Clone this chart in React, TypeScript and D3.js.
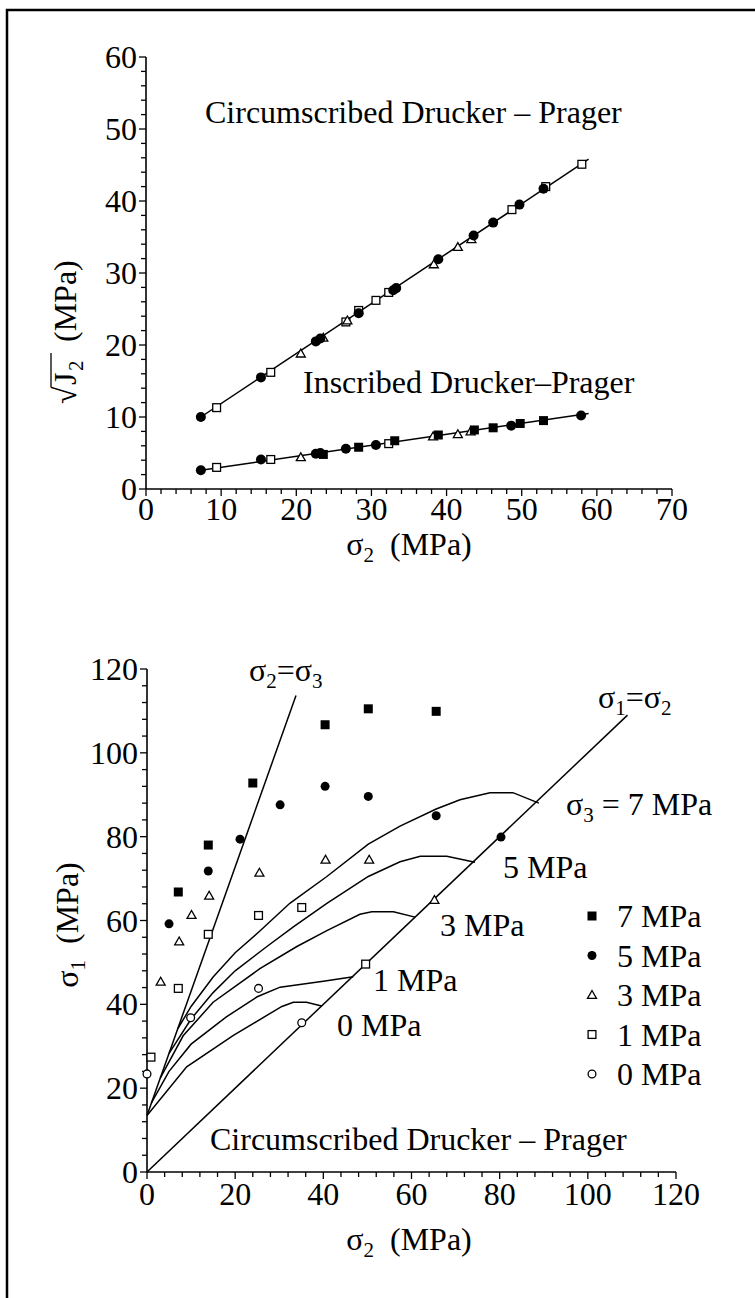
import React from 'react';
import * as d3 from 'd3';

const FONT = '"Liberation Serif", "Times New Roman", Times, serif';
const FS = 32;

// ---------- upper panel: sqrt(J2) vs sigma2 ----------
const topXTicks = [0, 10, 20, 30, 40, 50, 60, 70];
const topYTicks = [0, 10, 20, 30, 40, 50, 60];

const circLine: [number, number][] = [[7.3, 10.0], [58.9, 45.8]];
const inscLine: [number, number][] = [[7.3, 2.6], [58.9, 10.5]];

const circFilledCircle: [number, number][] = [
  [7.3, 10.0], [15.3, 15.5], [22.6, 20.5], [23.2, 20.9], [28.3, 24.4], [32.9, 27.6],
  [33.3, 27.9], [38.9, 31.9], [43.6, 35.2], [46.2, 37.0], [49.7, 39.5], [52.9, 41.7],
];
const circOpenSquare: [number, number][] = [
  [9.4, 11.3], [16.6, 16.2], [26.6, 23.2], [28.3, 24.8], [30.6, 26.2], [32.3, 27.3],
  [48.7, 38.8], [53.2, 42.0], [58.0, 45.1],
];
const circTriangle: [number, number][] = [
  [20.6, 18.8], [23.6, 21.0], [26.8, 23.4], [38.3, 31.2], [41.5, 33.6], [43.3, 34.7],
];

const inscFilledCircle: [number, number][] = [
  [7.3, 2.6], [15.3, 4.1], [22.6, 4.9], [23.2, 5.0], [26.6, 5.6], [30.6, 6.1],
  [48.6, 8.8], [57.9, 10.2],
];
const inscOpenSquare: [number, number][] = [[9.4, 3.0], [16.6, 4.1], [32.3, 6.3]];
const inscFilledSquare: [number, number][] = [
  [23.6, 4.8], [28.3, 5.8], [33.1, 6.7], [38.9, 7.5], [43.7, 8.2], [46.2, 8.5],
  [49.8, 9.1], [52.9, 9.5],
];
const inscTriangle: [number, number][] = [[20.6, 4.4], [38.2, 7.3], [41.5, 7.6], [43.2, 8.0]];

// ---------- lower panel: sigma1 vs sigma2 ----------
const botXTicks = [0, 20, 40, 60, 80, 100, 120];
const botYTicks = [0, 20, 40, 60, 80, 100, 120];

const lineS1eqS2: [number, number][] = [[0, 0], [109, 109]];
const lineS2eqS3: [number, number][] = [[0, 13.5], [33.8, 113.7]];

const curve7: [number, number][] = [
  [7, 34.2], [10, 39.5], [15, 46.5], [20, 52.3], [25.6, 57.5], [32.4, 64.1], [40.8, 70.5],
  [50.2, 78.2], [57.4, 82.5], [65.6, 86.6], [71, 88.8], [77.8, 90.5], [83, 90.5], [88.9, 88.0],
];
const curve5: [number, number][] = [
  [5, 28.3], [10, 36.5], [15, 42.8], [20, 48.0], [27.2, 53.8], [33.2, 58.5], [40.8, 64.1],
  [50.2, 70.5], [57.4, 74.0], [62, 75.3], [68, 75.3], [74.4, 73.9],
];
const curve3: [number, number][] = [
  [3, 22.4], [8.2, 32.5], [15, 40.5], [25.6, 48.5], [34.0, 53.8], [40.8, 57.6],
  [48.3, 61.5], [51, 62.1], [55.9, 62.1], [60.8, 60.8],
];
const curve1: [number, number][] = [
  [1, 16.5], [5, 24.0], [10, 30.5], [18, 37.0], [25, 41.8], [30.2, 44.1], [40, 45.5], [46.8, 46.6],
];
const curve0: [number, number][] = [
  [0, 13.5], [9, 25.1], [19.6, 32.6], [30.6, 39.5], [33.2, 40.5], [36.2, 40.5], [39.6, 39.6],
];

const test7: [number, number][] = [[7.1, 66.8], [13.9, 78.0], [24.0, 92.8], [40.4, 106.7], [50.2, 110.5], [65.6, 109.9]];
const test5: [number, number][] = [[5.0, 59.2], [13.9, 71.8], [21.1, 79.4], [30.2, 87.6], [40.4, 92.0], [50.2, 89.6], [65.6, 85.0], [80.3, 79.9]];
const test3: [number, number][] = [[3.1, 45.4], [7.3, 55.0], [10.1, 61.3], [14.1, 65.9], [25.5, 71.4], [40.5, 74.5], [50.4, 74.5], [65.2, 64.9]];
const test1: [number, number][] = [[0.9, 27.4], [7.1, 43.8], [13.9, 56.7], [25.3, 61.2], [35.1, 63.1], [49.6, 49.6]];
const test0: [number, number][] = [[0, 23.4], [9.9, 36.8], [25.3, 43.8], [35.1, 35.6]];

const legendLabels = ['7 MPa', '5 MPa', '3 MPa', '1 MPa', '0 MPa'];
const legendShapes = ['fsq', 'fci', 'tri', 'osq', 'oci'];

type Shape = 'fsq' | 'fci' | 'tri' | 'osq' | 'oci';

function Marker({ shape, x, y, s = 9 }: { shape: string; x: number; y: number; s?: number }) {
  const h = s / 2;
  switch (shape as Shape) {
    case 'fsq':
      return <rect x={x - h} y={y - h} width={s} height={s} fill="#000" />;
    case 'osq':
      return <rect x={x - h + 0.6} y={y - h + 0.6} width={s - 1.2} height={s - 1.2} fill="#fff" stroke="#000" strokeWidth={1.3} />;
    case 'fci':
      return <circle cx={x} cy={y} r={h} fill="#000" />;
    case 'oci':
      return <circle cx={x} cy={y} r={h - 0.6} fill="#fff" stroke="#000" strokeWidth={1.3} />;
    case 'tri':
    default: {
      const p = `M${x},${y - h} L${x + h},${y + h * 0.75} L${x - h},${y + h * 0.75} Z`;
      return <path d={p} fill="#fff" stroke="#000" strokeWidth={1.3} />;
    }
  }
}

export default function App() {
  // scales, upper panel
  const tx = d3.scaleLinear().domain([0, 70]).range([146, 672]);
  const ty = d3.scaleLinear().domain([0, 60]).range([489, 57]);
  // scales, lower panel
  const bx = d3.scaleLinear().domain([0, 120]).range([147, 676]);
  const by = d3.scaleLinear().domain([0, 120]).range([1172, 669]);

  const tLine = d3.line<[number, number]>().x((d) => tx(d[0])).y((d) => ty(d[1]));
  const bLine = d3.line<[number, number]>().x((d) => bx(d[0])).y((d) => by(d[1]));

  const txMinor = d3.range(0, 70.001, 2);
  const tyMinor = d3.range(0, 60.001, 2);
  const bxMinor = d3.range(0, 120.001, 4);
  const byMinor = d3.range(0, 120.001, 4);

  const axisW = 1.6;
  const lineW = 1.5;

  const textStyle = { fontFamily: FONT, fontSize: FS, fill: '#000' } as const;
  const SUB = 21;

  const pts = (arr: [number, number][], shape: string, sx: any, sy: any, s = 9) =>
    arr.map((d, i) => <Marker key={shape + i} shape={shape} x={sx(d[0])} y={sy(d[1])} s={s} />);

  return (
    <svg
      width={755}
      height={1298}
      style={{ position: 'absolute', left: 0, top: 0, display: 'block', background: '#fff' }}
    >
      <rect x={0} y={0} width={755} height={1298} fill="#fff" />
      {/* outer frame */}
      <path d="M7,1298 V10 H755" fill="none" stroke="#000" strokeWidth={2.5} />

      {/* ===== upper panel ===== */}
      <g>
        {/* axes */}
        <line x1={tx(0)} x2={tx(70)} y1={ty(0)} y2={ty(0)} stroke="#000" strokeWidth={axisW} />
        <line x1={tx(0)} x2={tx(0)} y1={ty(0)} y2={ty(60)} stroke="#000" strokeWidth={axisW} />
        {txMinor.map((v) => (
          <line key={'tx' + v} x1={tx(v)} x2={tx(v)} y1={ty(0)} y2={ty(0) + (v % 10 === 0 ? 7 : 5)} stroke="#000" strokeWidth={1.3} />
        ))}
        {tyMinor.map((v) => (
          <line key={'ty' + v} x1={tx(0)} x2={tx(0) - (v % 10 === 0 ? 7 : 5)} y1={ty(v)} y2={ty(v)} stroke="#000" strokeWidth={1.3} />
        ))}
        {topXTicks.map((v) => (
          <text key={'txl' + v} x={tx(v)} y={ty(0) + 31} textAnchor="middle" style={textStyle}>{v}</text>
        ))}
        {topYTicks.map((v) => (
          <text key={'tyl' + v} x={tx(0) - 9} y={ty(v) + 11} textAnchor="end" style={textStyle}>{v}</text>
        ))}

        {/* fitted lines */}
        <path d={tLine(circLine) || ''} fill="none" stroke="#000" strokeWidth={lineW} />
        <path d={tLine(inscLine) || ''} fill="none" stroke="#000" strokeWidth={lineW} />

        {pts(circOpenSquare, 'osq', tx, ty, 9)}
        {pts(circTriangle, 'tri', tx, ty, 9)}
        {pts(circFilledCircle, 'fci', tx, ty, 10)}
        {pts(inscOpenSquare, 'osq', tx, ty, 9)}
        {pts(inscTriangle, 'tri', tx, ty, 9)}
        {pts(inscFilledSquare, 'fsq', tx, ty, 9)}
        {pts(inscFilledCircle, 'fci', tx, ty, 10)}

        <text x={205} y={123} style={textStyle}>Circumscribed Drucker – Prager</text>
        <text x={303} y={393} style={textStyle}>Inscribed Drucker–Prager</text>

        {/* axis titles */}
        <text x={409} y={555} textAnchor="middle" style={textStyle}>
          σ<tspan fontSize={SUB} dy={7}>2</tspan>
          <tspan dy={-7}>{'\u00a0\u00a0(MPa)'}</tspan>
        </text>
        <g transform="translate(76,404) rotate(-90)">
          <text x={0} y={0} style={textStyle}>√</text>
          <line x1={17} x2={51} y1={-25} y2={-25} stroke="#000" strokeWidth={1.3} />
          <text x={19} y={0} style={textStyle}>J</text>
          <text x={33} y={7} style={{ ...textStyle, fontSize: SUB }}>2</text>
          <text x={62} y={0} style={textStyle}>(MPa)</text>
        </g>
      </g>

      {/* ===== lower panel ===== */}
      <g>
        <line x1={bx(0)} x2={bx(120)} y1={by(0)} y2={by(0)} stroke="#000" strokeWidth={axisW} />
        <line x1={bx(0)} x2={bx(0)} y1={by(0)} y2={by(120)} stroke="#000" strokeWidth={axisW} />
        {bxMinor.map((v) => (
          <line key={'bx' + v} x1={bx(v)} x2={bx(v)} y1={by(0)} y2={by(0) + (v % 20 === 0 ? 7 : 5)} stroke="#000" strokeWidth={1.3} />
        ))}
        {byMinor.map((v) => (
          <line key={'by' + v} x1={bx(0)} x2={bx(0) - (v % 20 === 0 ? 7 : 5)} y1={by(v)} y2={by(v)} stroke="#000" strokeWidth={1.3} />
        ))}
        {botXTicks.map((v) => (
          <text key={'bxl' + v} x={bx(v)} y={by(0) + 33} textAnchor="middle" style={textStyle}>{v}</text>
        ))}
        {botYTicks.map((v) => (
          <text key={'byl' + v} x={bx(0) - 9} y={by(v) + 11} textAnchor="end" style={textStyle}>{v}</text>
        ))}

        <path d={bLine(lineS1eqS2) || ''} fill="none" stroke="#000" strokeWidth={lineW} />
        <path d={bLine(lineS2eqS3) || ''} fill="none" stroke="#000" strokeWidth={lineW} />
        {[curve7, curve5, curve3, curve1, curve0].map((c, i) => (
          <path key={'c' + i} d={bLine(c) || ''} fill="none" stroke="#000" strokeWidth={lineW} />
        ))}

        {pts(test7, 'fsq', bx, by, 9)}
        {pts(test5, 'fci', bx, by, 9)}
        {pts(test3, 'tri', bx, by, 9)}
        {pts(test1, 'osq', bx, by, 9)}
        {pts(test0, 'oci', bx, by, 9)}

        {/* line labels */}
        <text x={249} y={681} style={textStyle}>
          σ<tspan fontSize={SUB} dy={7}>2</tspan><tspan dy={-7}>=σ</tspan><tspan fontSize={SUB} dy={7}>3</tspan>
        </text>
        <text x={598} y={708} style={textStyle}>
          σ<tspan fontSize={SUB} dy={7}>1</tspan><tspan dy={-7}>=σ</tspan><tspan fontSize={SUB} dy={7}>2</tspan>
        </text>
        <text x={566} y={815} style={textStyle}>
          σ<tspan fontSize={SUB} dy={7}>3</tspan><tspan dy={-7}>{' = 7 MPa'}</tspan>
        </text>
        <text x={503} y={878} style={textStyle}>5 MPa</text>
        <text x={440} y={936} style={textStyle}>3 MPa</text>
        <text x={373} y={991} style={textStyle}>1 MPa</text>
        <text x={337} y={1036} style={textStyle}>0 MPa</text>
        <text x={210} y={1150} style={textStyle}>Circumscribed Drucker – Prager</text>

        {/* legend */}
        {legendLabels.map((lab, i) => {
          const yy = 916 + i * 39.5;
          return (
            <g key={'lg' + i}>
              <Marker shape={legendShapes[i]} x={592} y={yy} s={9} />
              <text x={617} y={yy + 11} style={textStyle}>{lab}</text>
            </g>
          );
        })}

        {/* axis titles */}
        <text x={409} y={1250} textAnchor="middle" style={textStyle}>
          σ<tspan fontSize={SUB} dy={7}>2</tspan>
          <tspan dy={-7}>{'\u00a0\u00a0(MPa)'}</tspan>
        </text>
        <g transform="translate(78,925) rotate(-90)">
          <text x={0} y={0} textAnchor="middle" style={textStyle}>
            σ<tspan fontSize={SUB} dy={7}>1</tspan>
            <tspan dy={-7}>{'\u00a0\u00a0(MPa)'}</tspan>
          </text>
        </g>
      </g>
    </svg>
  );
}
